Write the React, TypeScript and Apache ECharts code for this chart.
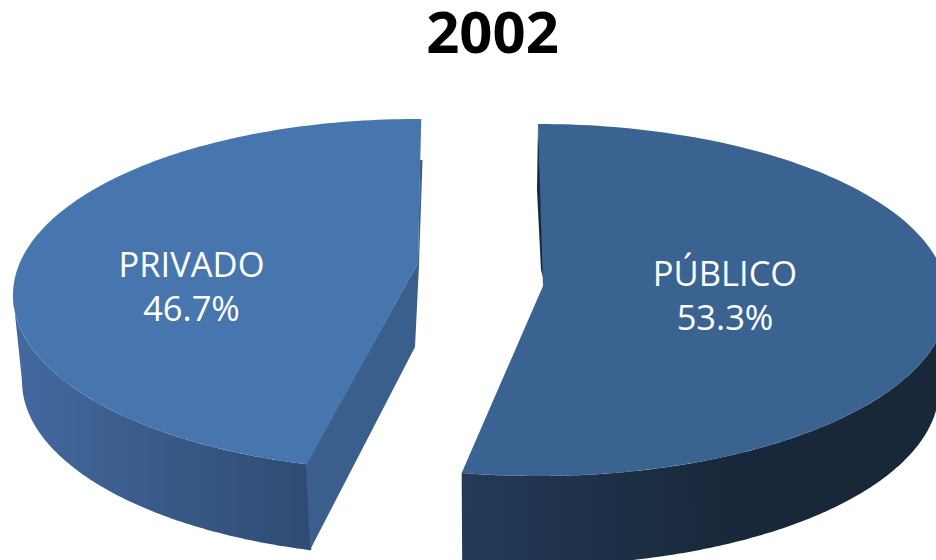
import React, { useEffect, useRef } from "react";
import * as echarts from "echarts";

const title = "2002";
const categories = ["PRIVADO", "PÚBLICO"];
const shares = [46.7, 53.3];

type Pt = [number, number];
const WHITE = "#ffffff";
const TOP_COLORS = ["#4776af", "#3b6391"];
const CUT_COLORS = ["#3b5f8d", "#18293c"];
const WALL_STOPS = [
  [{ offset: 0, color: "#44699f" }, { offset: 1, color: "#2e4c72" }],
  [{ offset: 0, color: "#243a58" }, { offset: 0.55, color: "#18283a" }, { offset: 1, color: "#182839" }],
];
// direction -1: sweeps anti-clockwise from the top, +1: clockwise
const SHAPES = [
  {
    dir: -1, startDeg: 0.6, sweepScale: 0.98, apex: [418, 263] as Pt,
    top: { cx: 417, cy: 295, rx: 404, ry: 176 },
    floor: { cx: 420, cy: 381, rx: 398, ry: 176 },
    wallFromDeg: 90, label: [191.5, 285] as Pt,
    cut: [[420, 160], [422.5, 160], [419, 265], [415, 347], [310, 550], [306, 464], [418, 263]] as Pt[],
  },
  {
    dir: 1, startDeg: 0, sweepScale: 0.994, apex: [543, 286] as Pt,
    top: { cx: 538, cy: 300, rx: 410, ry: 176 },
    floor: { cx: 537, cy: 389, rx: 402, ry: 176 },
    wallFromDeg: 90, label: [725, 294] as Pt,
    cut: [[538, 124], [537, 190], [541, 270], [545, 285], [544, 272], [541, 190]] as Pt[],
  },
];

const onEllipse = (e: any, dir: number, deg: number): Pt => {
  const r = (deg * Math.PI) / 180;
  return [e.cx + dir * e.rx * Math.sin(r), e.cy - e.ry * Math.cos(r)];
};
const arc = (e: any, dir: number, from: number, to: number): Pt[] => {
  const pts: Pt[] = [];
  const n = 160;
  for (let i = 0; i <= n; i++) pts.push(onEllipse(e, dir, from + ((to - from) * i) / n));
  return pts;
};

export default function App() {
  const ref = useRef<HTMLDivElement>(null);
  useEffect(() => {
    document.body.style.margin = "0";
    document.body.style.background = WHITE;
    const chart = echarts.init(ref.current!, null, { renderer: "svg" });
    const total = shares.reduce((a, b) => a + b, 0);
    chart.setOption({
      animation: false,
      backgroundColor: WHITE,
      title: {
        text: title,
        left: 492.5,
        top: 0,
        padding: 0,
        textAlign: "center",
        textStyle: { fontFamily: "Open Sans", fontWeight: 700, fontSize: 58, lineHeight: 61, color: "#000000" },
      },
      series: [
        {
          type: "custom",
          coordinateSystem: "none",
          silent: true,
          data: shares.map((v, i) => ({ name: categories[i], value: [v, i] })),
          renderItem: (_p: any, api: any) => {
            const value = api.value(0) as number;
            const i = api.value(1) as number;
            const s = SHAPES[i];
            const sweep = (value / total) * 360 * s.sweepScale;
            const end = s.dir > 0 ? s.startDeg + sweep : sweep - s.startDeg;
            const start = s.dir > 0 ? s.startDeg : -s.startDeg;
            const wallTop = arc(s.top, s.dir, s.wallFromDeg, end);
            const wallFloor = arc(s.floor, s.dir, s.wallFromDeg, end).reverse();
            const wall = {
              type: "polygon",
              shape: { points: [...wallTop, ...wallFloor] },
              style: { fill: new echarts.graphic.LinearGradient(0, 0, 1, 0, WALL_STOPS[i]) },
            };
            const cut = { type: "polygon", shape: { points: s.cut }, style: { fill: CUT_COLORS[i] } };
            const face = {
              type: "polygon",
              shape: { points: [s.apex, ...arc(s.top, s.dir, start, end)] },
              style: { fill: TOP_COLORS[i] },
            };
            const label = {
              type: "text",
              x: s.label[0],
              y: s.label[1],
              style: {
                text: `${categories[i]}\n${value.toFixed(1)}%`,
                fill: WHITE,
                fontFamily: "Open Sans",
                fontSize: 34.5,
                lineHeight: 44,
                align: "center",
                verticalAlign: "middle",
              },
            };
            return { type: "group", children: [wall, cut, face, label] };
          },
        },
      ],
    });
    return () => chart.dispose();
  }, []);
  return <div ref={ref} style={{ width: 936, height: 560 }} />;
}
